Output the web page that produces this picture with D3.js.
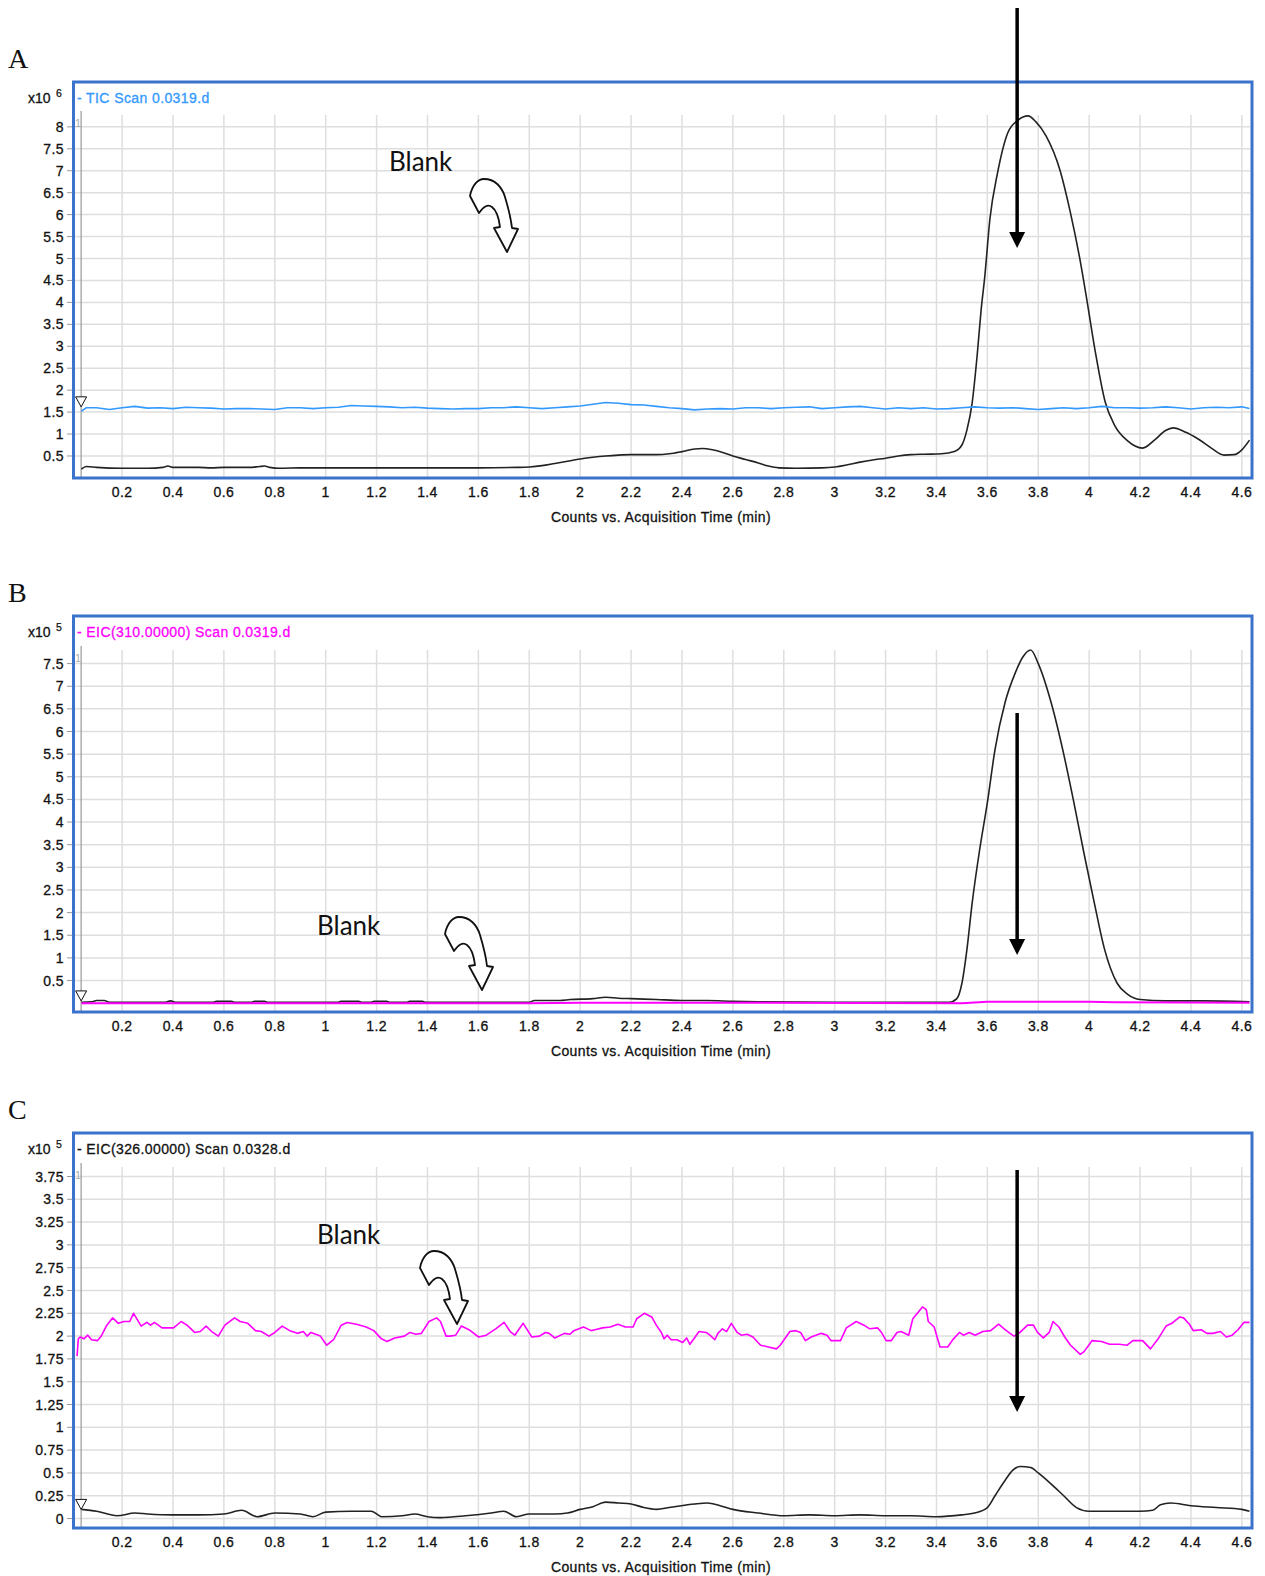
<!DOCTYPE html>
<meta charset="utf-8">
<head>
  <style>
    body { margin: 0; background: #fff; }
    svg text { font-family: "Liberation Sans", Arial, sans-serif; }
    .lab { font-size: 14px; fill: #111; stroke: #111; stroke-width: 0.3px; letter-spacing: 0.4px; }
  </style>
  <script src="https://d3js.org/d3.v7.min.js"></script>
</head>
<body>
  <div id="chart"></div>
  <script>
    // ---- data ----
    const timeTicks = [0.2, 0.4, 0.6, 0.8, 1, 1.2, 1.4, 1.6, 1.8, 2, 2.2, 2.4, 2.6, 2.8, 3, 3.2, 3.4, 3.6, 3.8, 4, 4.2, 4.4, 4.6];
    const ticksA = [0.5, 1, 1.5, 2, 2.5, 3, 3.5, 4, 4.5, 5, 5.5, 6, 6.5, 7, 7.5, 8];
    const ticksB = [0.5, 1, 1.5, 2, 2.5, 3, 3.5, 4, 4.5, 5, 5.5, 6, 6.5, 7, 7.5];
    const ticksC = [0, 0.25, 0.5, 0.75, 1, 1.25, 1.5, 1.75, 2, 2.25, 2.5, 2.75, 3, 3.25, 3.5, 3.75];

    // A: TIC (x10^6)
    const ticBlank = [[0.04,1.52],[0.06,1.6],[0.1,1.6],[0.15,1.56],[0.2,1.6],[0.25,1.63],[0.3,1.59],[0.35,1.6],[0.4,1.58],[0.45,1.61],[0.5,1.6],[0.55,1.59],[0.6,1.57],[0.65,1.58],[0.7,1.58],[0.75,1.57],[0.8,1.56],[0.85,1.6],[0.9,1.6],[0.95,1.58],[1.0,1.6],[1.05,1.61],[1.1,1.65],[1.15,1.64],[1.2,1.63],[1.25,1.62],[1.3,1.6],[1.35,1.61],[1.4,1.59],[1.45,1.58],[1.5,1.57],[1.55,1.58],[1.6,1.58],[1.65,1.6],[1.7,1.6],[1.75,1.62],[1.8,1.6],[1.85,1.58],[1.9,1.6],[1.95,1.62],[2.0,1.64],[2.05,1.68],[2.1,1.72],[2.15,1.7],[2.2,1.67],[2.25,1.66],[2.3,1.63],[2.35,1.6],[2.4,1.58],[2.45,1.55],[2.5,1.57],[2.55,1.58],[2.6,1.57],[2.65,1.6],[2.7,1.6],[2.75,1.58],[2.8,1.6],[2.85,1.61],[2.9,1.62],[2.95,1.58],[3.0,1.6],[3.05,1.62],[3.1,1.63],[3.15,1.6],[3.2,1.57],[3.25,1.6],[3.3,1.58],[3.35,1.6],[3.4,1.57],[3.45,1.58],[3.5,1.6],[3.55,1.62],[3.6,1.6],[3.65,1.59],[3.7,1.6],[3.75,1.58],[3.8,1.56],[3.85,1.58],[3.9,1.6],[3.95,1.58],[4.0,1.6],[4.05,1.63],[4.1,1.6],[4.15,1.6],[4.2,1.59],[4.25,1.6],[4.3,1.62],[4.35,1.6],[4.4,1.57],[4.45,1.6],[4.5,1.61],[4.55,1.6],[4.6,1.62],[4.63,1.58]];
    const ticSample = [[0.04,0.2],[0.06,0.26],[0.1,0.24],[0.2,0.22],[0.3,0.22],[0.36,0.24],[0.38,0.27],[0.4,0.24],[0.5,0.24],[0.55,0.23],[0.6,0.24],[0.7,0.24],[0.74,0.26],[0.76,0.27],[0.78,0.24],[0.82,0.22],[0.9,0.23],[1.2,0.23],[1.6,0.23],[1.75,0.24],[1.8,0.25],[1.85,0.28],[1.9,0.33],[1.95,0.38],[2.0,0.43],[2.05,0.47],[2.1,0.5],[2.15,0.52],[2.2,0.53],[2.3,0.53],[2.35,0.55],[2.4,0.6],[2.45,0.66],[2.48,0.67],[2.52,0.64],[2.56,0.58],[2.6,0.5],[2.65,0.42],[2.7,0.34],[2.74,0.27],[2.78,0.23],[2.85,0.22],[2.95,0.23],[3.0,0.25],[3.05,0.3],[3.1,0.36],[3.15,0.41],[3.2,0.45],[3.25,0.5],[3.3,0.53],[3.35,0.54],[3.42,0.55],[3.47,0.6],[3.5,0.75],[3.52,1.1],[3.54,1.7],[3.56,2.8],[3.575,3.8],[3.59,4.6],[3.61,5.9],[3.64,6.95],[3.68,7.86],[3.72,8.15],[3.76,8.25],[3.79,8.12],[3.83,7.8],[3.886,7.0],[3.925,6.08],[3.965,4.94],[3.992,4.02],[4.024,2.88],[4.063,1.73],[4.1,1.2],[4.15,0.85],[4.21,0.68],[4.26,0.88],[4.3,1.08],[4.33,1.14],[4.38,1.04],[4.43,0.88],[4.48,0.68],[4.53,0.52],[4.57,0.53],[4.6,0.64],[4.63,0.86]];

    // B: EIC 310 (x10^5)
    const eic310Blank = [[0.04,0.0],[1.8,0.0],[2.0,0.01],[2.3,0.01],[3.5,0.0],[3.6,0.03],[4.0,0.03],[4.1,0.02],[4.63,0.01]];
    const eic310Sample = [[0.04,0.02],[0.08,0.03],[0.1,0.06],[0.13,0.06],[0.15,0.02],[0.37,0.02],[0.39,0.05],[0.41,0.02],[0.56,0.02],[0.57,0.04],[0.63,0.04],[0.64,0.02],[0.71,0.02],[0.72,0.04],[0.76,0.04],[0.77,0.02],[1.05,0.02],[1.06,0.04],[1.13,0.04],[1.14,0.02],[1.18,0.02],[1.19,0.04],[1.24,0.04],[1.25,0.02],[1.32,0.02],[1.33,0.04],[1.38,0.04],[1.39,0.02],[1.8,0.02],[1.82,0.06],[1.92,0.06],[1.96,0.08],[2.05,0.1],[2.1,0.13],[2.15,0.11],[2.2,0.1],[2.3,0.08],[2.4,0.06],[2.5,0.06],[2.6,0.04],[2.7,0.03],[3.0,0.02],[3.45,0.02],[3.48,0.1],[3.5,0.44],[3.52,1.2],[3.54,2.2],[3.57,3.4],[3.6,4.43],[3.63,5.6],[3.67,6.65],[3.71,7.3],[3.74,7.65],[3.77,7.8],[3.8,7.5],[3.85,6.65],[3.9,5.5],[3.94,4.43],[3.98,3.3],[4.02,2.22],[4.06,1.2],[4.11,0.44],[4.15,0.2],[4.2,0.08],[4.3,0.05],[4.45,0.05],[4.63,0.03]];

    // C: EIC 326 (x10^5)
    const eic326Blank = [[0.023,1.78],[0.028,1.97],[0.035,1.99],[0.05,1.97],[0.065,2.01],[0.08,1.96],[0.103,1.95],[0.118,2.0],[0.14,2.12],[0.163,2.2],[0.185,2.14],[0.207,2.16],[0.23,2.16],[0.245,2.25],[0.275,2.11],[0.297,2.15],[0.312,2.12],[0.327,2.15],[0.357,2.09],[0.402,2.09],[0.432,2.16],[0.455,2.12],[0.485,2.04],[0.507,2.05],[0.53,2.11],[0.552,2.05],[0.578,2.0],[0.604,2.12],[0.642,2.2],[0.664,2.16],[0.694,2.14],[0.724,2.06],[0.747,2.05],[0.777,2.0],[0.8,2.04],[0.829,2.11],[0.859,2.06],[0.889,2.03],[0.912,2.05],[0.927,2.0],[0.942,2.04],[0.979,2.0],[1.004,1.9],[1.031,1.96],[1.061,2.12],[1.084,2.15],[1.121,2.13],[1.159,2.1],[1.189,2.06],[1.219,1.97],[1.241,1.94],[1.271,1.98],[1.309,2.0],[1.331,2.04],[1.354,2.02],[1.376,2.03],[1.406,2.16],[1.436,2.2],[1.451,2.16],[1.473,2.0],[1.488,2.0],[1.511,2.01],[1.533,2.11],[1.563,2.07],[1.601,1.99],[1.631,2.01],[1.668,2.08],[1.701,2.15],[1.725,2.05],[1.743,2.01],[1.776,2.14],[1.81,1.99],[1.84,2.0],[1.863,2.04],[1.878,2.03],[1.9,1.98],[1.938,2.03],[1.96,2.02],[1.975,2.06],[2.013,2.1],[2.043,2.06],[2.058,2.07],[2.088,2.09],[2.118,2.1],[2.148,2.13],[2.178,2.1],[2.208,2.1],[2.222,2.19],[2.252,2.25],[2.281,2.21],[2.299,2.12],[2.319,2.04],[2.33,1.97],[2.342,2.01],[2.357,1.96],[2.38,1.96],[2.403,1.93],[2.418,1.98],[2.431,1.91],[2.449,1.98],[2.467,2.05],[2.495,2.04],[2.51,2.01],[2.529,1.96],[2.541,2.03],[2.559,2.08],[2.575,2.05],[2.594,2.14],[2.617,2.04],[2.633,2.01],[2.656,2.02],[2.679,1.99],[2.709,1.9],[2.74,1.88],[2.771,1.86],[2.786,1.9],[2.824,2.05],[2.847,2.06],[2.866,2.04],[2.885,1.95],[2.908,1.99],[2.947,2.03],[2.97,2.01],[2.985,1.95],[3.023,1.95],[3.046,2.09],[3.085,2.16],[3.115,2.12],[3.138,2.08],[3.169,2.09],[3.184,2.04],[3.202,1.95],[3.222,1.95],[3.245,2.04],[3.261,2.05],[3.291,2.01],[3.307,2.19],[3.345,2.32],[3.36,2.29],[3.368,2.16],[3.391,2.1],[3.414,1.88],[3.444,1.88],[3.467,1.97],[3.49,2.04],[3.506,2.01],[3.529,2.04],[3.552,2.01],[3.582,2.05],[3.613,2.06],[3.644,2.13],[3.666,2.08],[3.689,2.03],[3.705,2.0],[3.728,2.04],[3.758,2.12],[3.781,2.12],[3.797,2.04],[3.82,1.98],[3.843,2.04],[3.858,2.16],[3.881,2.1],[3.904,1.99],[3.927,1.9],[3.965,1.8],[3.98,1.83],[4.011,1.95],[4.049,1.94],[4.08,1.91],[4.118,1.91],[4.149,1.9],[4.172,1.95],[4.21,1.95],[4.241,1.86],[4.271,1.97],[4.302,2.11],[4.325,2.14],[4.356,2.21],[4.371,2.2],[4.394,2.13],[4.409,2.06],[4.44,2.07],[4.463,2.03],[4.486,2.03],[4.516,2.05],[4.539,1.99],[4.562,2.01],[4.585,2.07],[4.608,2.15],[4.63,2.15]];
    const eic326Sample = [[0.04,0.1],[0.1,0.08],[0.18,0.03],[0.25,0.06],[0.3,0.05],[0.4,0.04],[0.5,0.04],[0.6,0.05],[0.67,0.09],[0.73,0.02],[0.8,0.06],[0.9,0.05],[0.95,0.02],[1.0,0.07],[1.1,0.08],[1.18,0.08],[1.22,0.02],[1.3,0.03],[1.35,0.05],[1.4,0.02],[1.45,0.01],[1.55,0.03],[1.65,0.06],[1.7,0.08],[1.75,0.02],[1.8,0.05],[1.9,0.05],[1.95,0.06],[2.0,0.1],[2.05,0.13],[2.1,0.18],[2.15,0.17],[2.2,0.16],[2.25,0.12],[2.3,0.1],[2.35,0.12],[2.45,0.16],[2.5,0.17],[2.55,0.14],[2.6,0.1],[2.7,0.06],[2.8,0.03],[2.9,0.04],[3.0,0.03],[3.1,0.04],[3.2,0.03],[3.3,0.03],[3.4,0.02],[3.5,0.04],[3.55,0.06],[3.6,0.12],[3.63,0.25],[3.67,0.42],[3.7,0.53],[3.73,0.57],[3.77,0.56],[3.8,0.5],[3.85,0.38],[3.9,0.25],[3.95,0.12],[4.0,0.08],[4.1,0.08],[4.2,0.08],[4.25,0.09],[4.28,0.15],[4.32,0.17],[4.4,0.14],[4.5,0.12],[4.6,0.1],[4.63,0.08]];

    // ---- layout ----
    const W = 1265, H = 1576;
    const left = 74, right = 1250;
    const frameColor = "#3a72cc";

    const svg = d3.select("#chart").append("svg")
      .attr("width", W).attr("height", H)
      .style("display", "block");

    const x = d3.scaleLinear().domain([0.011, 4.632]).range([left, right]);

    const panels = [
      { letter: "A", frameTop: 82, top: 115, bottom: 477, yDomain: [0.021, 8.27], ticks: ticksA, exp: "6",
        title: "- TIC Scan 0.0319.d", titleColor: "#3399ff",
        series: [{ data: ticSample, color: "#222", width: 1.6, curve: d3.curveMonotoneX },
                 { data: ticBlank, color: "#3399ff", width: 1.6, curve: d3.curveLinear }],
        marker: 1.62, blank: [389, 171], curl: [470, 179], arrow: [8, 248] },
      { letter: "B", frameTop: 616, top: 650, bottom: 1011, yDomain: [-0.173, 7.8], ticks: ticksB, exp: "5",
        title: "- EIC(310.00000) Scan 0.0319.d", titleColor: "#ff00ff",
        series: [{ data: eic310Sample, color: "#222", width: 1.6, curve: d3.curveMonotoneX },
                 { data: eic310Blank, color: "#ff00ff", width: 2, curve: d3.curveLinear }],
        marker: 0.05, blank: [317, 935], curl: [445, 917], arrow: [713, 955] },
      { letter: "C", frameTop: 1133, top: 1167, bottom: 1527, yDomain: [-0.093, 3.854], ticks: ticksC, exp: "5",
        title: "- EIC(326.00000) Scan 0.0328.d", titleColor: "#111",
        series: [{ data: eic326Sample, color: "#222", width: 1.6, curve: d3.curveMonotoneX },
                 { data: eic326Blank, color: "#ff00ff", width: 1.6, curve: d3.curveLinear }],
        marker: 0.1, blank: [317, 1244], curl: [420, 1251], arrow: [1170, 1412] }
    ];

    // hollow curved arrow used for the "Blank" callouts
    const curlPath = "M0,17 C2,6 8,0 14,0 C25,0 32,8 35,18 C38,28 41,40 42,49 L48,50 L37,73 L24,49 L30,48 C29,40 26,31 22,28 C18,25 14,27 9,34 Z";

    panels.forEach(p => {
      const y = d3.scaleLinear().domain(p.yDomain).range([p.bottom, p.top]);
      const g = svg.append("g");

      // grid
      g.selectAll(".vgrid").data(timeTicks).join("line")
        .attr("x1", d => x(d)).attr("x2", d => x(d))
        .attr("y1", p.top).attr("y2", p.bottom)
        .attr("stroke", "#dedede").attr("stroke-width", 1.5);
      g.selectAll(".hgrid").data(p.ticks).join("line")
        .attr("x1", left).attr("x2", right)
        .attr("y1", d => y(d)).attr("y2", d => y(d))
        .attr("stroke", "#dedede").attr("stroke-width", 1.5);

      // y tick marks + labels
      g.selectAll(".ytick").data(p.ticks).join("line")
        .attr("x1", 67).attr("x2", 73)
        .attr("y1", d => y(d)).attr("y2", d => y(d))
        .attr("stroke", "#999");
      g.selectAll(".ylab").data(p.ticks).join("text")
        .attr("class", "lab")
        .attr("x", 64).attr("y", d => y(d)).attr("dy", "0.36em")
        .attr("text-anchor", "end")
        .text(d => String(d));

      // x labels + title
      g.selectAll(".xlab").data(timeTicks).join("text")
        .attr("class", "lab")
        .attr("x", d => x(d)).attr("y", p.bottom + 20)
        .attr("text-anchor", "middle")
        .text(d => String(d));
      g.append("text").attr("class", "lab").attr("x", 661).attr("y", p.bottom + 45)
        .attr("text-anchor", "middle")
        .text("Counts vs. Acquisition Time (min)");

      // cursor line and "1"
      g.append("line").attr("x1", x(0.039)).attr("x2", x(0.039))
        .attr("y1", p.top - 4).attr("y2", p.bottom)
        .attr("stroke", "#999").attr("stroke-width", 1.2);
      g.append("text").attr("x", 75).attr("y", p.top + 12)
        .attr("font-size", 11).attr("fill", "#aaa").text("1");

      // traces
      const clipId = "clip" + p.letter;
      svg.append("clipPath").attr("id", clipId).append("rect")
        .attr("x", left).attr("y", p.top - 2).attr("width", right - left).attr("height", p.bottom - p.top + 2);
      const lines = g.append("g").attr("clip-path", `url(#${clipId})`);
      p.series.forEach(s => {
        lines.append("path")
          .attr("d", d3.line().x(d => x(d[0])).y(d => y(d[1])).curve(s.curve)(s.data))
          .attr("fill", "none").attr("stroke", s.color).attr("stroke-width", s.width)
          .attr("stroke-linejoin", "round");
      });

      // start marker triangle
      const my = y(p.marker);
      g.append("path")
        .attr("d", `M${x(0.039) - 5.5},${my - 10} L${x(0.039) + 5.5},${my - 10} L${x(0.039)},${my} Z`)
        .attr("fill", "#fff").attr("stroke", "#111").attr("stroke-width", 1);

      // frame
      g.append("rect").attr("x", 73.5).attr("y", p.frameTop)
        .attr("width", 1252 - 73.5).attr("height", p.bottom - p.frameTop + 1)
        .attr("fill", "none").attr("stroke", frameColor).attr("stroke-width", 3);

      // header
      g.append("text").attr("class", "lab").attr("x", 28).attr("y", p.frameTop + 21)
        .style("letter-spacing", "0px").text("x10");
      g.append("text").attr("x", 56).attr("y", p.frameTop + 15)
        .attr("font-size", 10.5).attr("fill", "#111").attr("stroke", "#111").attr("stroke-width", 0.25)
        .text(p.exp);
      g.append("text").attr("x", 77).attr("y", p.frameTop + 21)
        .attr("font-size", 14).style("letter-spacing", "0.4px")
        .attr("fill", p.titleColor).attr("stroke", p.titleColor).attr("stroke-width", 0.3)
        .text(p.title);

      // panel letter
      g.append("text").attr("x", 8).attr("y", p.frameTop - 14)
        .style("font-family", "'Liberation Serif', 'Times New Roman', serif")
        .attr("font-size", 28).attr("fill", "#111").text(p.letter);

      // "Blank" callout
      g.append("text").attr("x", p.blank[0]).attr("y", p.blank[1])
        .style("font-family", "Lato, 'Open Sans', sans-serif")
        .attr("font-size", 26).attr("fill", "#111").text("Blank");
      g.append("path").attr("d", curlPath)
        .attr("transform", `translate(${p.curl[0]},${p.curl[1]})`)
        .attr("fill", "#fff").attr("stroke", "#111").attr("stroke-width", 1.8)
        .attr("stroke-linejoin", "round");

      // big vertical arrow at the sample peak
      const ax = x(3.717);
      g.append("line").attr("x1", ax).attr("x2", ax)
        .attr("y1", p.arrow[0]).attr("y2", p.arrow[1] - 14)
        .attr("stroke", "#000").attr("stroke-width", 3.5);
      g.append("path")
        .attr("d", `M${ax - 8},${p.arrow[1] - 16} L${ax + 8},${p.arrow[1] - 16} L${ax},${p.arrow[1]} Z`)
        .attr("fill", "#000");
    });
  </script>
</body>
